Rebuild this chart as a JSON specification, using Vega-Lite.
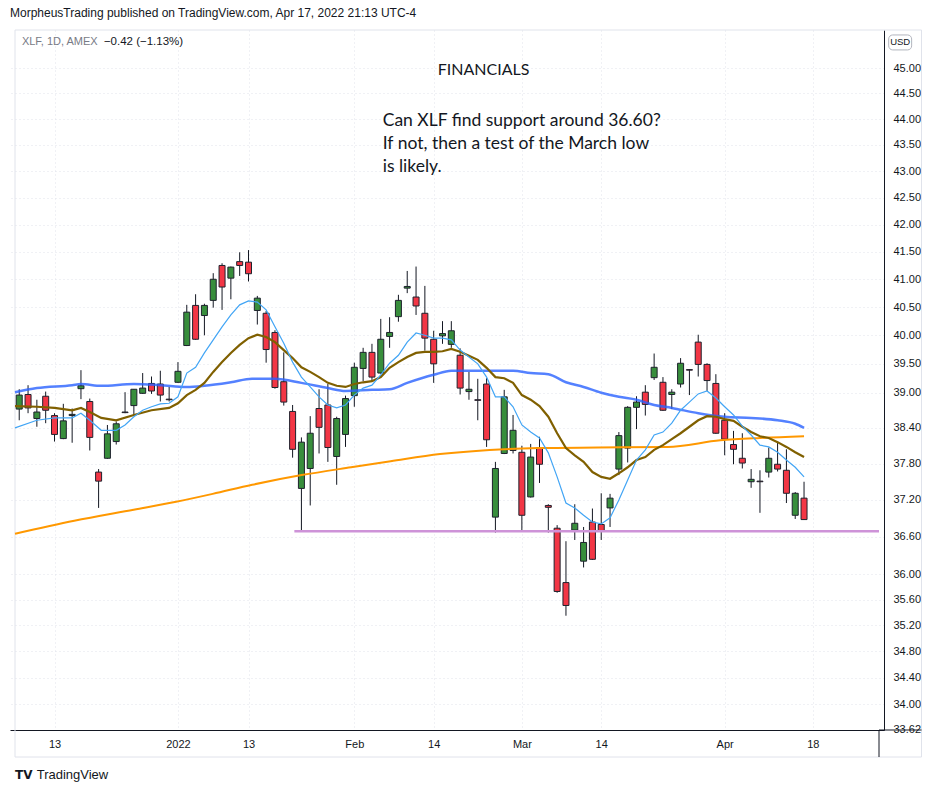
{
  "$schema": "https://vega.github.io/schema/vega-lite/v6.json",
  "width": 874,
  "height": 700,
  "autosize": "none",
  "padding": {"left": 10, "top": 30, "right": 53, "bottom": 63},
  "background": "#ffffff",
  "title": {
    "text": "MorpheusTrading published on TradingView.com, Apr 17, 2022 21:13 UTC-4",
    "anchor": "start",
    "frame": "group",
    "offset": 10,
    "font": "Liberation Sans",
    "fontSize": 12,
    "fontWeight": "normal",
    "color": "#131722"
  },
  "config": {"view": {"stroke": null}, "font": "Liberation Sans"},
  "datasets": {
    "candles": [
      {"i":0,"d":"2021-12-07","o":38.72,"h":39.06,"l":38.53,"c":38.96},
      {"i":1,"d":"2021-12-08","o":38.97,"h":39.13,"l":38.65,"c":38.74},
      {"i":2,"d":"2021-12-09","o":38.56,"h":38.88,"l":38.42,"c":38.67},
      {"i":3,"d":"2021-12-10","o":38.94,"h":39.02,"l":38.48,"c":38.70},
      {"i":4,"d":"2021-12-13","o":38.61,"h":38.65,"l":38.17,"c":38.29},
      {"i":5,"d":"2021-12-14","o":38.22,"h":38.81,"l":38.21,"c":38.52},
      {"i":6,"d":"2021-12-15","o":38.61,"h":38.73,"l":38.15,"c":38.63},
      {"i":7,"d":"2021-12-16","o":39.07,"h":39.39,"l":38.89,"c":39.12},
      {"i":8,"d":"2021-12-17","o":38.85,"h":38.90,"l":38.02,"c":38.24},
      {"i":9,"d":"2021-12-20","o":37.66,"h":37.71,"l":37.07,"c":37.51},
      {"i":10,"d":"2021-12-21","o":37.89,"h":38.45,"l":37.88,"c":38.30},
      {"i":11,"d":"2021-12-22","o":38.17,"h":38.51,"l":38.12,"c":38.47},
      {"i":12,"d":"2021-12-23","o":38.67,"h":39.01,"l":38.65,"c":38.66},
      {"i":13,"d":"2021-12-27","o":38.78,"h":39.06,"l":38.62,"c":39.06},
      {"i":14,"d":"2021-12-28","o":38.99,"h":39.34,"l":38.98,"c":39.08},
      {"i":15,"d":"2021-12-29","o":39.16,"h":39.28,"l":38.98,"c":39.03},
      {"i":16,"d":"2021-12-30","o":39.15,"h":39.38,"l":38.85,"c":38.96},
      {"i":17,"d":"2021-12-31","o":38.89,"h":39.10,"l":38.85,"c":38.88},
      {"i":18,"d":"2022-01-03","o":39.18,"h":39.53,"l":39.17,"c":39.37},
      {"i":19,"d":"2022-01-04","o":39.82,"h":40.54,"l":39.81,"c":40.41},
      {"i":20,"d":"2022-01-05","o":40.53,"h":40.73,"l":39.92,"c":39.93},
      {"i":21,"d":"2022-01-06","o":40.35,"h":40.56,"l":40.00,"c":40.53},
      {"i":22,"d":"2022-01-07","o":40.62,"h":41.11,"l":40.49,"c":41.00},
      {"i":23,"d":"2022-01-10","o":41.25,"h":41.29,"l":40.45,"c":40.86},
      {"i":24,"d":"2022-01-11","o":41.02,"h":41.23,"l":40.64,"c":41.22},
      {"i":25,"d":"2022-01-12","o":41.32,"h":41.49,"l":41.06,"c":41.25},
      {"i":26,"d":"2022-01-13","o":41.31,"h":41.53,"l":40.96,"c":41.10},
      {"i":27,"d":"2022-01-14","o":40.44,"h":40.70,"l":40.19,"c":40.66},
      {"i":28,"d":"2022-01-18","o":40.39,"h":40.43,"l":39.52,"c":39.75},
      {"i":29,"d":"2022-01-19","o":40.05,"h":40.09,"l":39.07,"c":39.09},
      {"i":30,"d":"2022-01-20","o":39.19,"h":39.70,"l":38.78,"c":38.84},
      {"i":31,"d":"2022-01-21","o":38.68,"h":38.79,"l":37.90,"c":38.04},
      {"i":32,"d":"2022-01-24","o":37.39,"h":38.24,"l":36.68,"c":38.16},
      {"i":33,"d":"2022-01-25","o":37.72,"h":38.60,"l":37.11,"c":38.31},
      {"i":34,"d":"2022-01-26","o":38.73,"h":39.06,"l":37.97,"c":38.41},
      {"i":35,"d":"2022-01-27","o":38.79,"h":39.15,"l":37.83,"c":38.07},
      {"i":36,"d":"2022-01-28","o":37.92,"h":38.59,"l":37.45,"c":38.56},
      {"i":37,"d":"2022-01-31","o":38.29,"h":38.95,"l":38.08,"c":38.90},
      {"i":38,"d":"2022-02-01","o":38.95,"h":39.52,"l":38.76,"c":39.44},
      {"i":39,"d":"2022-02-02","o":39.42,"h":39.78,"l":39.20,"c":39.70},
      {"i":40,"d":"2022-02-03","o":39.70,"h":39.85,"l":39.22,"c":39.27},
      {"i":41,"d":"2022-02-04","o":39.34,"h":40.29,"l":39.33,"c":39.93},
      {"i":42,"d":"2022-02-07","o":39.98,"h":40.32,"l":39.78,"c":40.05},
      {"i":43,"d":"2022-02-08","o":40.33,"h":40.72,"l":40.24,"c":40.62},
      {"i":44,"d":"2022-02-09","o":40.84,"h":41.15,"l":40.75,"c":40.87},
      {"i":45,"d":"2022-02-10","o":40.68,"h":41.23,"l":40.36,"c":40.52},
      {"i":46,"d":"2022-02-11","o":40.39,"h":40.88,"l":39.73,"c":39.95},
      {"i":47,"d":"2022-02-14","o":39.93,"h":40.08,"l":39.17,"c":39.50},
      {"i":48,"d":"2022-02-15","o":39.99,"h":40.25,"l":39.85,"c":40.03},
      {"i":49,"d":"2022-02-16","o":39.84,"h":40.25,"l":39.78,"c":40.08},
      {"i":50,"d":"2022-02-17","o":39.65,"h":39.77,"l":38.97,"c":39.08},
      {"i":51,"d":"2022-02-18","o":39.02,"h":39.36,"l":38.88,"c":39.06},
      {"i":52,"d":"2022-02-22","o":38.88,"h":39.24,"l":38.53,"c":38.87},
      {"i":53,"d":"2022-02-23","o":39.15,"h":39.25,"l":38.08,"c":38.20},
      {"i":54,"d":"2022-02-24","o":36.92,"h":37.83,"l":36.67,"c":37.72},
      {"i":55,"d":"2022-02-25","o":37.97,"h":39.05,"l":37.96,"c":38.93},
      {"i":56,"d":"2022-02-28","o":38.02,"h":38.62,"l":37.97,"c":38.36},
      {"i":57,"d":"2022-03-01","o":37.99,"h":38.10,"l":36.71,"c":36.95},
      {"i":58,"d":"2022-03-02","o":37.25,"h":38.13,"l":37.24,"c":37.91},
      {"i":59,"d":"2022-03-03","o":38.07,"h":38.25,"l":37.48,"c":37.79},
      {"i":60,"d":"2022-03-04","o":37.11,"h":37.13,"l":36.67,"c":37.08},
      {"i":61,"d":"2022-03-07","o":36.74,"h":36.79,"l":35.71,"c":35.73},
      {"i":62,"d":"2022-03-08","o":35.87,"h":36.53,"l":35.35,"c":35.51},
      {"i":63,"d":"2022-03-09","o":36.71,"h":37.13,"l":36.55,"c":36.82},
      {"i":64,"d":"2022-03-10","o":36.21,"h":36.76,"l":36.11,"c":36.51},
      {"i":65,"d":"2022-03-11","o":36.84,"h":37.06,"l":36.23,"c":36.24},
      {"i":66,"d":"2022-03-14","o":36.80,"h":37.31,"l":36.55,"c":36.70},
      {"i":67,"d":"2022-03-15","o":37.07,"h":37.30,"l":36.76,"c":37.23},
      {"i":68,"d":"2022-03-16","o":37.71,"h":38.33,"l":37.61,"c":38.27},
      {"i":69,"d":"2022-03-17","o":38.06,"h":38.77,"l":37.82,"c":38.75},
      {"i":70,"d":"2022-03-18","o":38.75,"h":38.94,"l":38.38,"c":38.84},
      {"i":71,"d":"2022-03-21","o":39.01,"h":39.13,"l":38.61,"c":38.80},
      {"i":72,"d":"2022-03-22","o":39.26,"h":39.68,"l":39.22,"c":39.44},
      {"i":73,"d":"2022-03-23","o":39.18,"h":39.27,"l":38.69,"c":38.70},
      {"i":74,"d":"2022-03-24","o":38.97,"h":39.06,"l":38.72,"c":39.01},
      {"i":75,"d":"2022-03-25","o":39.15,"h":39.60,"l":39.09,"c":39.51},
      {"i":76,"d":"2022-03-28","o":39.40,"h":39.41,"l":38.96,"c":39.39},
      {"i":77,"d":"2022-03-29","o":39.88,"h":40.01,"l":39.28,"c":39.49},
      {"i":78,"d":"2022-03-30","o":39.49,"h":39.51,"l":39.03,"c":39.21},
      {"i":79,"d":"2022-03-31","o":39.16,"h":39.32,"l":38.30,"c":38.31},
      {"i":80,"d":"2022-04-01","o":38.53,"h":38.65,"l":37.94,"c":38.21},
      {"i":81,"d":"2022-04-04","o":38.12,"h":38.35,"l":37.79,"c":38.04},
      {"i":82,"d":"2022-04-05","o":37.89,"h":38.31,"l":37.72,"c":37.81},
      {"i":83,"d":"2022-04-06","o":37.50,"h":37.71,"l":37.40,"c":37.54},
      {"i":84,"d":"2022-04-07","o":37.51,"h":37.69,"l":36.99,"c":37.50},
      {"i":85,"d":"2022-04-08","o":37.66,"h":38.07,"l":37.57,"c":37.89},
      {"i":86,"d":"2022-04-11","o":37.79,"h":38.17,"l":37.67,"c":37.71},
      {"i":87,"d":"2022-04-12","o":37.69,"h":38.04,"l":37.15,"c":37.31},
      {"i":88,"d":"2022-04-13","o":36.95,"h":37.33,"l":36.89,"c":37.31},
      {"i":89,"d":"2022-04-14","o":37.23,"h":37.50,"l":36.88,"c":36.88}
    ],
    "ma10": [
      {"i":-0.48,"v":38.40},{"i":2,"v":38.53},{"i":4,"v":38.57},{"i":6,"v":38.57},{"i":7,"v":38.65},{"i":8,"v":38.53},{"i":9.3,"v":38.36},{"i":11,"v":38.36},{"i":12,"v":38.45},{"i":13,"v":38.59},{"i":14,"v":38.70},{"i":15,"v":38.76},{"i":16,"v":38.81},{"i":17,"v":38.82},{"i":18,"v":38.93},{"i":19,"v":39.34},{"i":20,"v":39.44},{"i":21,"v":39.69},{"i":22,"v":39.92},{"i":23,"v":40.15},{"i":24,"v":40.36},{"i":25,"v":40.54},{"i":26,"v":40.61},{"i":27,"v":40.59},{"i":28,"v":40.45},{"i":29,"v":40.15},{"i":30,"v":39.86},{"i":31,"v":39.53},{"i":32,"v":39.27},{"i":33,"v":39.10},{"i":34,"v":38.93},{"i":35,"v":38.79},{"i":36,"v":38.74},{"i":37,"v":38.79},{"i":38,"v":38.96},{"i":39,"v":39.08},{"i":40,"v":39.13},{"i":41,"v":39.31},{"i":42,"v":39.51},{"i":43,"v":39.65},{"i":44,"v":39.88},{"i":45,"v":40.04},{"i":46,"v":40.00},{"i":47,"v":39.95},{"i":48,"v":39.95},{"i":49,"v":39.92},{"i":50,"v":39.74},{"i":51,"v":39.62},{"i":52,"v":39.50},{"i":53,"v":39.27},{"i":54,"v":38.93},{"i":55,"v":38.93},{"i":56,"v":38.76},{"i":57,"v":38.45},{"i":58,"v":38.33},{"i":59,"v":38.23},{"i":60,"v":37.98},{"i":61,"v":37.58},{"i":62,"v":37.15},{"i":63,"v":37.07},{"i":64,"v":36.95},{"i":65,"v":36.84},{"i":66,"v":36.81},{"i":67,"v":36.91},{"i":68,"v":37.20},{"i":69,"v":37.53},{"i":70,"v":37.86},{"i":71,"v":38.03},{"i":72,"v":38.28},{"i":73,"v":38.33},{"i":74,"v":38.48},{"i":75,"v":38.70},{"i":76,"v":38.84},{"i":77,"v":38.98},{"i":78,"v":39.03},{"i":79,"v":38.91},{"i":80,"v":38.76},{"i":81,"v":38.62},{"i":82,"v":38.43},{"i":83,"v":38.28},{"i":84,"v":38.11},{"i":85,"v":38.08},{"i":86,"v":37.99},{"i":87,"v":37.86},{"i":88,"v":37.74},{"i":89,"v":37.58}
    ],
    "ma20": [
      {"i":-0.48,"v":38.77},{"i":2,"v":38.76},{"i":4,"v":38.74},{"i":6,"v":38.70},{"i":7,"v":38.74},{"i":8,"v":38.67},{"i":9.3,"v":38.57},{"i":11,"v":38.53},{"i":13,"v":38.62},{"i":15,"v":38.70},{"i":17,"v":38.74},{"i":18,"v":38.82},{"i":19,"v":38.96},{"i":20,"v":39.05},{"i":21,"v":39.17},{"i":22,"v":39.36},{"i":23,"v":39.53},{"i":24,"v":39.69},{"i":25,"v":39.83},{"i":26,"v":39.95},{"i":27,"v":40.01},{"i":28,"v":39.97},{"i":29,"v":39.88},{"i":30,"v":39.74},{"i":31,"v":39.60},{"i":32,"v":39.44},{"i":33,"v":39.36},{"i":34,"v":39.27},{"i":35,"v":39.17},{"i":36,"v":39.12},{"i":37,"v":39.10},{"i":38,"v":39.15},{"i":39,"v":39.18},{"i":40,"v":39.20},{"i":41,"v":39.27},{"i":42,"v":39.43},{"i":43,"v":39.53},{"i":44,"v":39.62},{"i":45,"v":39.69},{"i":46,"v":39.71},{"i":47,"v":39.71},{"i":48,"v":39.72},{"i":49,"v":39.76},{"i":50,"v":39.71},{"i":51,"v":39.64},{"i":52,"v":39.57},{"i":53,"v":39.43},{"i":54,"v":39.27},{"i":55,"v":39.25},{"i":56,"v":39.17},{"i":57,"v":38.96},{"i":58,"v":38.88},{"i":59,"v":38.77},{"i":60,"v":38.59},{"i":61,"v":38.31},{"i":62,"v":38.06},{"i":63,"v":37.94},{"i":64,"v":37.83},{"i":65,"v":37.66},{"i":66,"v":37.58},{"i":67,"v":37.55},{"i":68,"v":37.64},{"i":69,"v":37.74},{"i":70,"v":37.86},{"i":71,"v":37.91},{"i":72,"v":38.03},{"i":73,"v":38.11},{"i":74,"v":38.21},{"i":75,"v":38.31},{"i":76,"v":38.42},{"i":77,"v":38.53},{"i":78,"v":38.60},{"i":79,"v":38.59},{"i":80,"v":38.55},{"i":81,"v":38.52},{"i":82,"v":38.42},{"i":83,"v":38.33},{"i":84,"v":38.26},{"i":85,"v":38.23},{"i":86,"v":38.16},{"i":87,"v":38.08},{"i":88,"v":37.99},{"i":89,"v":37.91}
    ],
    "ma50": [
      {"i":-0.48,"v":39.01},{"i":2,"v":39.08},{"i":6,"v":39.13},{"i":7,"v":39.15},{"i":9.3,"v":39.12},{"i":13,"v":39.15},{"i":16,"v":39.13},{"i":19,"v":39.10},{"i":21,"v":39.12},{"i":24,"v":39.18},{"i":26.4,"v":39.24},{"i":29,"v":39.24},{"i":32,"v":39.17},{"i":35,"v":39.08},{"i":37,"v":39.03},{"i":40,"v":39.05},{"i":42,"v":39.06},{"i":44,"v":39.17},{"i":47,"v":39.31},{"i":49,"v":39.38},{"i":53,"v":39.38},{"i":56,"v":39.38},{"i":58,"v":39.34},{"i":60,"v":39.32},{"i":62,"v":39.18},{"i":64,"v":39.10},{"i":66,"v":39.00},{"i":68,"v":38.93},{"i":70,"v":38.88},{"i":72,"v":38.79},{"i":74,"v":38.74},{"i":77,"v":38.65},{"i":80,"v":38.59},{"i":83,"v":38.57},{"i":86,"v":38.53},{"i":88,"v":38.47},{"i":89,"v":38.40}
    ],
    "ma200": [
      {"i":-0.48,"v":36.65},{"i":6.24,"v":36.86},{"i":12.98,"v":37.04},{"i":17.79,"v":37.17},{"i":21.94,"v":37.30},{"i":26.42,"v":37.45},{"i":32.03,"v":37.61},{"i":37.63,"v":37.74},{"i":42.12,"v":37.84},{"i":47.72,"v":37.96},{"i":53.33,"v":38.03},{"i":58.93,"v":38.06},{"i":65.66,"v":38.07},{"i":73.51,"v":38.08},{"i":79.5,"v":38.19},{"i":84,"v":38.23},{"i":89,"v":38.26}
    ]
  },
  "layer": [
    {
      "data": {"values": [{}]},
      "mark": {"type": "rect", "fill": null, "stroke": "#e0e3eb", "strokeWidth": 1, "clip": false},
      "encoding": {
        "x": {"datum": -0.48, "type": "quantitative", "scale": {"domain": [-0.48, 97.5], "nice": false, "zero": false},
          "axis": {"orient": "bottom", "values": [4, 18, 26, 38, 47, 57, 66, 80, 90],
            "labelExpr": "datum.value == 4 ? '13' : datum.value == 18 ? '2022' : datum.value == 26 ? '13' : datum.value == 38 ? 'Feb' : datum.value == 47 ? '14' : datum.value == 57 ? 'Mar' : datum.value == 66 ? '14' : datum.value == 80 ? 'Apr' : datum.value == 90 ? '18' : ''",
            "title": null, "ticks": false, "domainColor": "#131722", "domainWidth": 1,
            "grid": true, "gridColor": "#e0e3eb", "gridDash": [1, 3],
            "labelFont": "Liberation Sans", "labelFontSize": 11, "labelColor": "#131722", "labelPadding": 8, "labelFlush": false}},
        "x2": {"datum": 102.32},
        "y": {"datum": 45.76, "type": "quantitative", "scale": {"type": "log", "domain": [33.614, 45.76], "nice": false, "zero": false},
          "axis": {"orient": "right", "values": [33.62, 34, 34.4, 34.8, 35.2, 35.6, 36, 36.6, 37.2, 37.8, 38.4, 39, 39.5, 40, 40.5, 41, 41.5, 42, 42.5, 43, 43.5, 44, 44.5, 45],
            "format": ".2f", "title": null, "ticks": false, "domainColor": "#131722", "domainWidth": 1,
            "grid": true, "gridColor": "#e0e3eb", "gridDash": [1, 3],
            "labelFont": "Liberation Sans", "labelFontSize": 11, "labelColor": "#131722", "labelPadding": 9, "labelFlush": false, "labelOverlap": false}},
        "y2": {"datum": 33.216}
      }
    },
    {
      "data": {"values": [{}]},
      "mark": {"type": "rule", "color": "#131722", "strokeWidth": 1, "clip": false},
      "encoding": {"x": {"datum": 97.5}, "y": {"datum": 33.614}, "y2": {"datum": 33.216}}
    },
    {
      "data": {"values": [{}]},
      "mark": {"type": "rule", "color": "#131722", "strokeWidth": 1, "clip": false},
      "encoding": {"x": {"datum": 97.5}, "x2": {"datum": 102.32}, "y": {"datum": 33.614}}
    },
    {
      "data": {"values": [{}]},
      "mark": {"type": "rect", "fill": null, "stroke": "#b2b5be", "strokeWidth": 1, "cornerRadius": 4, "clip": false},
      "encoding": {"x": {"datum": 98.6}, "x2": {"datum": 101.2}, "y": {"datum": 45.66}, "y2": {"datum": 45.36}}
    },
    {
      "data": {"name": "candles"},
      "mark": {"type": "rule", "color": "#131722", "strokeWidth": 1},
      "encoding": {
        "x": {"field": "i", "type": "quantitative"},
        "y": {"field": "l", "type": "quantitative"},
        "y2": {"field": "h"}
      }
    },
    {
      "data": {"name": "candles"},
      "mark": {"type": "bar", "size": 6, "stroke": "#1e222d", "strokeWidth": 1},
      "encoding": {
        "x": {"field": "i", "type": "quantitative"},
        "y": {"field": "o", "type": "quantitative"},
        "y2": {"field": "c"},
        "fill": {"condition": {"test": "datum.c >= datum.o", "value": "#388e3c"}, "value": "#f23645"}
      }
    },
    {
      "data": {"name": "ma200"},
      "mark": {"type": "line", "color": "#ff9800", "strokeWidth": 2, "interpolate": "monotone"},
      "encoding": {"x": {"field": "i", "type": "quantitative"}, "y": {"field": "v", "type": "quantitative"}}
    },
    {
      "data": {"name": "ma50"},
      "mark": {"type": "line", "color": "#2962ff", "strokeWidth": 2.5, "opacity": 0.8, "interpolate": "monotone"},
      "encoding": {"x": {"field": "i", "type": "quantitative"}, "y": {"field": "v", "type": "quantitative"}}
    },
    {
      "data": {"name": "ma20"},
      "mark": {"type": "line", "color": "#806000", "strokeWidth": 2.2},
      "encoding": {"x": {"field": "i", "type": "quantitative"}, "y": {"field": "v", "type": "quantitative"}}
    },
    {
      "data": {"name": "ma10"},
      "mark": {"type": "line", "color": "#42a5f5", "strokeWidth": 1.2},
      "encoding": {"x": {"field": "i", "type": "quantitative"}, "y": {"field": "v", "type": "quantitative"}}
    },
    {
      "data": {"values": [{}]},
      "mark": {"type": "rule", "color": "#ce93d8", "strokeWidth": 2.5},
      "encoding": {"x": {"datum": 31.2}, "x2": {"datum": 97.5}, "y": {"datum": 36.69}}
    },
    {
      "data": {"values": [{}]},
      "mark": {"type": "text", "text": "FINANCIALS", "font": "Lato", "fontSize": 16, "color": "#131722", "align": "center", "baseline": "middle"},
      "encoding": {"x": {"datum": 52.66}, "y": {"datum": 44.96}}
    },
    {
      "data": {"values": [{}]},
      "mark": {"type": "text", "text": "Can XLF find support around 36.60?", "font": "Lato", "fontSize": 17.5, "color": "#131722", "align": "left", "baseline": "middle"},
      "encoding": {"x": {"datum": 41.22}, "y": {"datum": 43.96}}
    },
    {
      "data": {"values": [{}]},
      "mark": {"type": "text", "text": "If not, then a test of the March low", "font": "Lato", "fontSize": 17.5, "color": "#131722", "align": "left", "baseline": "middle"},
      "encoding": {"x": {"datum": 41.22}, "y": {"datum": 43.52}}
    },
    {
      "data": {"values": [{}]},
      "mark": {"type": "text", "text": "is likely.", "font": "Lato", "fontSize": 17.5, "color": "#131722", "align": "left", "baseline": "middle"},
      "encoding": {"x": {"datum": 41.22}, "y": {"datum": 43.08}}
    },
    {
      "data": {"values": [{}]},
      "mark": {"type": "text", "text": "XLF, 1D, AMEX", "font": "Liberation Sans", "fontSize": 11, "color": "#787b86", "align": "left", "baseline": "middle"},
      "encoding": {"x": {"datum": 0.3}, "y": {"datum": 45.52}}
    },
    {
      "data": {"values": [{}]},
      "mark": {"type": "text", "text": "\u22120.42 (\u22121.13%)", "font": "Liberation Sans", "fontSize": 11.5, "color": "#131722", "align": "left", "baseline": "middle"},
      "encoding": {"x": {"datum": 9.6}, "y": {"datum": 45.52}}
    },
    {
      "data": {"values": [{}]},
      "mark": {"type": "text", "text": "USD", "font": "Liberation Sans", "fontSize": 9.5, "color": "#131722", "align": "center", "baseline": "middle", "clip": false},
      "encoding": {"x": {"datum": 99.9}, "y": {"datum": 45.51}}
    },
    {
      "data": {"values": [{}]},
      "mark": {"type": "text", "text": "TV", "font": "DejaVu Sans", "fontSize": 12, "fontWeight": "bold", "color": "#131722", "align": "left", "baseline": "middle", "clip": false},
      "encoding": {"x": {"datum": -0.48}, "y": {"datum": 32.95}}
    },
    {
      "data": {"values": [{}]},
      "mark": {"type": "text", "text": "TradingView", "font": "Liberation Sans", "fontSize": 13, "color": "#131722", "align": "left", "baseline": "middle", "clip": false},
      "encoding": {"x": {"datum": 1.98}, "y": {"datum": 32.95}}
    }
  ]
}
